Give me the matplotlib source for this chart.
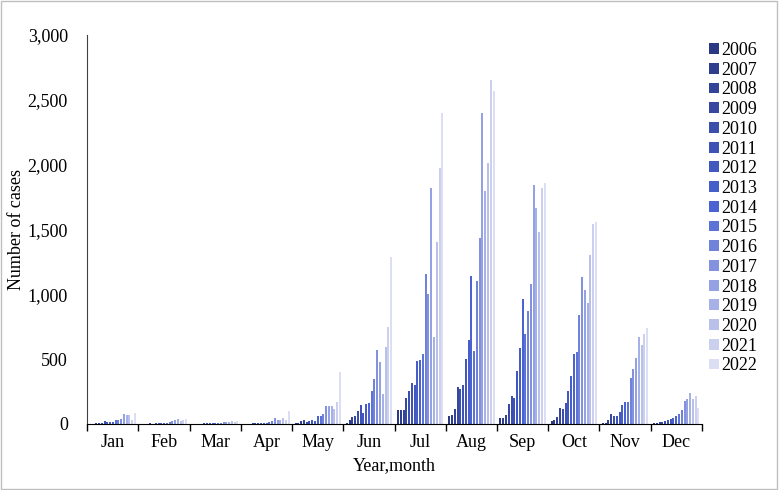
import numpy as np
import matplotlib
matplotlib.use('Agg')
import matplotlib.pyplot as plt
from matplotlib.colors import LinearSegmentedColormap
from matplotlib.patches import Rectangle
from matplotlib.ticker import FuncFormatter, FixedLocator

plt.rcParams['font.family'] = ['Liberation Serif', 'DejaVu Serif']

months = ['Jan', 'Feb', 'Mar', 'Apr', 'May', 'Jun', 'Jul', 'Aug', 'Sep', 'Oct', 'Nov', 'Dec']
years = [str(y) for y in range(2006, 2023)]

# cases per month, one list per month, 2006..2022
jan = [1, 2, 3, 5, 10, 20, 15, 13, 15, 33, 28, 38, 77, 67, 67, 33, 85]
feb = [1, 2, 1, 5, 2, 3, 5, 4, 10, 8, 12, 23, 28, 38, 20, 28, 41]
mar = [1, 1, 2, 2, 3, 3, 4, 5, 6, 8, 10, 12, 15, 18, 20, 18, 25]
apr = [1, 2, 2, 3, 4, 5, 6, 8, 10, 13, 20, 44, 31, 31, 46, 26, 100]
may = [4, 10, 25, 30, 18, 20, 28, 20, 58, 60, 78, 140, 140, 140, 115, 165, 400]
jun = [8, 27, 52, 60, 96, 148, 86, 155, 160, 252, 348, 570, 475, 227, 590, 745, 1283]
jul = [104, 110, 104, 200, 250, 317, 300, 488, 496, 540, 1155, 1000, 1819, 668, 1400, 1973, 2398]
aug = [60, 65, 111, 283, 265, 296, 501, 650, 1142, 565, 1104, 1432, 2398, 1796, 2009, 2648, 2565]
sep = [48, 42, 65, 155, 214, 196, 404, 586, 963, 694, 868, 1078, 1842, 1668, 1483, 1822, 1855]
oct_ = [20, 31, 56, 123, 118, 159, 256, 372, 538, 556, 838, 1133, 1030, 930, 1300, 1538, 1556]
nov = [3, 8, 26, 77, 59, 64, 90, 149, 167, 172, 351, 423, 508, 672, 610, 692, 738]
dec = [3, 6, 12, 18, 24, 30, 38, 48, 60, 75, 110, 175, 190, 240, 195, 215, 120]

data = np.array([jan, feb, mar, apr, may, jun, jul, aug, sep, oct_, nov, dec])

cmap = LinearSegmentedColormap.from_list(
    'blues', [(0.0, '#2B3883'), (0.5, '#4A63D2'), (1.0, '#DCDFF3')])
colors = [cmap(i / (len(years) - 1)) for i in range(len(years))]

fig = plt.figure(figsize=(7.79, 4.90), dpi=100)
ax = fig.add_axes([0.112, 0.135, 0.789, 0.794])

x = np.arange(len(months))
pitch = 0.92 / len(years)
for i, yr in enumerate(years):
    off = (i - (len(years) - 1) / 2) * pitch
    ax.bar(x + off, data[:, i], width=pitch * 0.72, color=colors[i], label=yr)

ax.set_xlim(-0.5, len(months) - 0.5)
ax.set_ylim(0, 3000)
ax.set_yticks(np.arange(0, 3001, 500))
ax.yaxis.set_major_formatter(FuncFormatter(lambda v, p: '{:,.0f}'.format(v)))
ax.set_xticks(x)
ax.set_xticklabels(months)
ax.xaxis.set_minor_locator(FixedLocator(np.arange(-0.5, len(months), 1)))
ax.tick_params(axis='x', which='major', length=0, pad=7, labelsize=13)
ax.tick_params(axis='x', which='minor', length=5, width=1)
ax.tick_params(axis='y', length=0, labelsize=13, pad=14)

for s in ['top', 'right']:
    ax.spines[s].set_visible(False)
ax.spines['left'].set_color('#404040')
ax.spines['bottom'].set_color('black')

ax.set_ylabel('Number of cases', fontsize=13)
ax.set_xlabel('Year,month', fontsize=13)
ax.yaxis.set_label_coords(-0.102, 0.5)
ax.xaxis.set_label_coords(0.5, -0.085)

ax.legend(loc='upper left', bbox_to_anchor=(0.901, 0.929), bbox_transform=fig.transFigure,
          frameon=False, fontsize=13, handlelength=0.55, handleheight=0.55,
          handletextpad=0.15, labelspacing=0.15, borderaxespad=0)

fig.patches.append(Rectangle((0.001, 0.002), 0.997, 0.996, transform=fig.transFigure,
                             fill=False, edgecolor='#BFBFBF', lw=1))

fig.savefig('out.png', dpi=100)
